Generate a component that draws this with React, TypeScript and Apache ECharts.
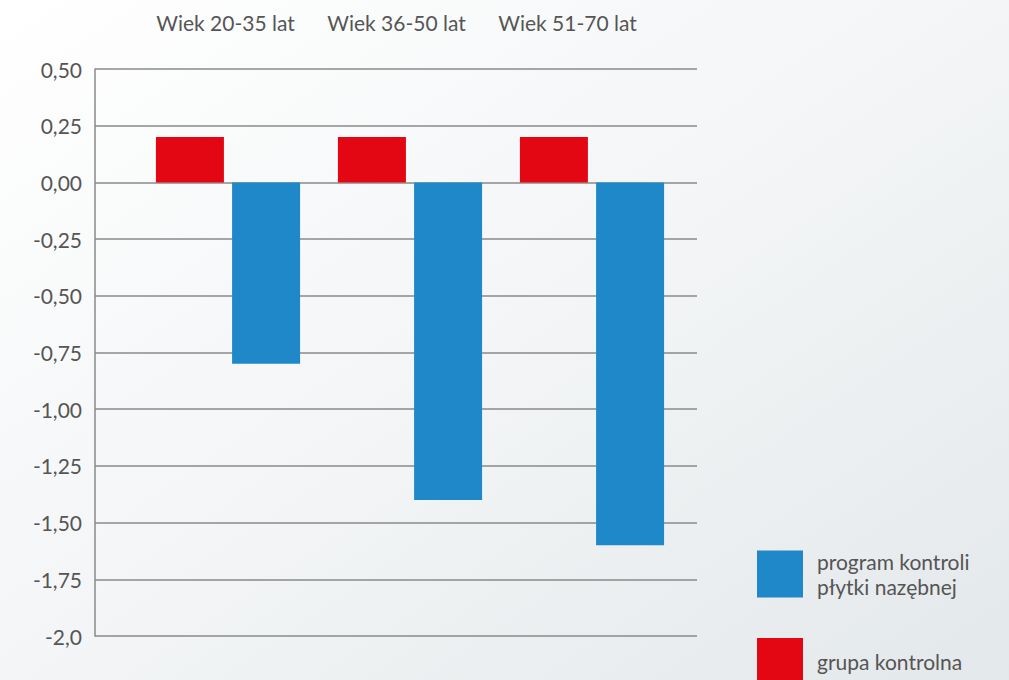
import React, { useEffect, useRef } from "react";
import * as echarts from "echarts";

const categories = ["Wiek 20-35 lat", "Wiek 36-50 lat", "Wiek 51-70 lat"];
const controlGroup = [0.2, 0.2, 0.2];
const plaqueProgram = [-0.8, -1.4, -1.6];
const seriesNames = ["program kontroli\npłytki nazębnej", "grupa kontrolna"];
const yTickValues = [0.5, 0.25, 0, -0.25, -0.5, -0.75, -1, -1.25, -1.5, -1.75, -2];
const yTickLabels = ["0,50", "0,25", "0,00", "-0,25", "-0,50", "-0,75", "-1,00", "-1,25", "-1,50", "-1,75", "-2,0"];

const FONT = "Lato, 'Open Sans', sans-serif";
const BLUE = "#1E88C9";
const RED = "#E30613";
const TEXT = "#555555";

export default function App() {
  const ref = useRef<HTMLDivElement>(null);
  useEffect(() => {
    if (!ref.current) return;
    const chart = echarts.init(ref.current, null, { renderer: "svg" });
    const yLabel = (v: number) => {
      const i = yTickValues.findIndex((t) => Math.abs(t - v) < 1e-9);
      return i >= 0 ? yTickLabels[i] : "";
    };
    const grids = [
      { left: 95, width: 602, top: 69, height: 567 },
      { left: 137, width: 546, top: 69, height: 567 },
      { left: 140, width: 513, top: 69, height: 567 },
    ];
    const legendBase = {
      orient: "vertical",
      left: 757,
      padding: 0,
      itemWidth: 46,
      itemHeight: 47,
      icon: "rect",
      selectedMode: false,
      textStyle: {
        fontFamily: FONT,
        fontSize: 21,
        color: TEXT,
        lineHeight: 25,
        padding: [0, 0, 0, 9],
      },
    };
    chart.setOption({
      animation: false,
      backgroundColor: new echarts.graphic.LinearGradient(0, 0, 1, 1, [
        { offset: 0, color: "#ffffff" },
        { offset: 0.5, color: "#f3f5f6" },
        { offset: 1, color: "#e3e8ea" },
      ]),
      textStyle: { fontFamily: FONT },
      grid: grids,
      legend: [
        { ...legendBase, data: [seriesNames[0]], top: 549 },
        { ...legendBase, data: [seriesNames[1]], top: 638 },
      ],
      xAxis: [
        { type: "category", gridIndex: 0, data: categories, show: false },
        { type: "category", gridIndex: 1, data: categories, show: false },
        {
          type: "category",
          gridIndex: 2,
          data: categories,
          position: "top",
          axisLine: { show: false },
          axisTick: { show: false },
          axisLabel: { interval: 0, fontFamily: FONT, fontSize: 21, color: TEXT, margin: 36 },
        },
      ],
      yAxis: [
        {
          type: "value",
          gridIndex: 0,
          min: -2,
          max: 0.5,
          interval: 0.25,
          axisLine: { show: true, lineStyle: { color: "#8a8a8a", width: 1.5 } },
          axisTick: { show: false },
          splitLine: { show: true, lineStyle: { color: "#8a8a8a", width: 1.5 } },
          axisLabel: { fontFamily: FONT, fontSize: 21, color: TEXT, margin: 13, formatter: yLabel },
        },
        { type: "value", gridIndex: 1, min: -2, max: 0.5, interval: 0.25, show: false, splitLine: { show: false } },
        { type: "value", gridIndex: 2, min: -2, max: 0.5, interval: 0.25, show: false, splitLine: { show: false } },
      ],
      series: [
        {
          name: seriesNames[1],
          type: "bar",
          xAxisIndex: 1,
          yAxisIndex: 1,
          data: controlGroup,
          barWidth: 68,
          barGap: "12%",
          itemStyle: { color: RED },
        },
        {
          name: seriesNames[0],
          type: "bar",
          xAxisIndex: 1,
          yAxisIndex: 1,
          data: plaqueProgram,
          barWidth: 68,
          barGap: "12%",
          itemStyle: { color: BLUE },
        },
      ],
    });
    return () => chart.dispose();
  }, []);
  return (
    <div
      ref={ref}
      style={{ position: "absolute", left: 0, top: 0, width: 1009, height: 680 }}
    />
  );
}
